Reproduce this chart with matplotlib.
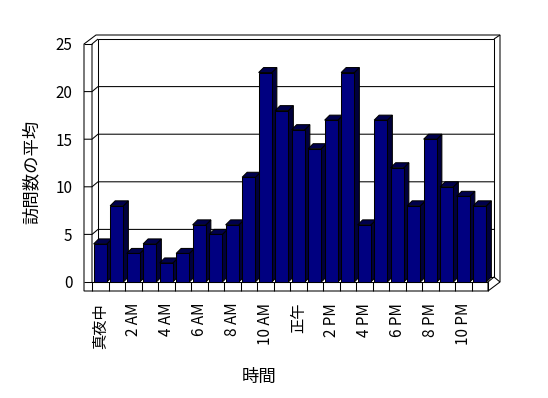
import matplotlib
matplotlib.use('Agg')
import matplotlib.pyplot as plt
from matplotlib.patches import Polygon
from matplotlib.lines import Line2D
from matplotlib.transforms import IdentityTransform

plt.rcParams['font.family'] = ['Noto Sans CJK JP', 'DejaVu Sans']

# ---- data ----
hours = list(range(24))
values = [4, 8, 3, 4, 2, 3, 6, 5, 6, 11, 22, 18, 16, 14, 17, 22, 6, 17, 12, 8, 15, 10, 9, 8]
tick_pos = [0, 2, 4, 6, 8, 10, 12, 14, 16, 18, 20, 22]
tick_labels = ['真夜中', '2 AM', '4 AM', '6 AM', '8 AM', '10 AM', '正午',
               '2 PM', '4 PM', '6 PM', '8 PM', '10 PM']
y_ticks = [0, 5, 10, 15, 20, 25]
x_title = '時間'
y_title = '訪問数の平均'

W, H = 548, 398
fig = plt.figure(figsize=(W / 100, H / 100), dpi=100)
ax = fig.add_axes([92 / W, 116 / H, 396 / W, 238 / H])
ax.set_xlim(-0.5, 23.5)
ax.set_ylim(0, 25)
for s in ax.spines.values():
    s.set_visible(False)
ax.patch.set_visible(False)
ax.set_xticks(tick_pos, tick_labels, rotation=90, fontsize=11)
ax.set_yticks(y_ticks, [str(v) for v in y_ticks], fontsize=11)
ax.tick_params(axis='x', length=0, pad=15)
ax.tick_params(axis='y', length=0, pad=14)

T = ax.transData
ID = IdentityTransform()
LW = 0.75


def P(xd, yd, ox=0.0, oy=0.0):
    x, y = T.transform((xd, yd))
    return (x + ox, y + oy)


def line(pts, z=1.0):
    xs = [p[0] for p in pts]
    ys = [p[1] for p in pts]
    ax.add_artist(Line2D(xs, ys, transform=ID, color='black', lw=LW,
                         zorder=z, clip_on=False, solid_capstyle='butt'))


def poly(pts, fc, z=1.0, ec='black'):
    ax.add_artist(Polygon(pts, closed=True, transform=ID, facecolor=fc,
                          edgecolor=ec, lw=LW, zorder=z, clip_on=False))


X0, X1 = -0.5, 23.5
Y0, YT = 0, 25
WL = 8      # left wall thickness (px)
DX, DY = 6, 5   # depth (px)
BX, BY = 6, 4   # back wall thickness (px)
FT = 9      # floor thickness (px)

# outer silhouette
poly([P(X0, YT, -WL, 0), P(X0, YT, -WL + DX + BX, DY + BY),
      P(X1, YT, DX + BX, DY + BY), P(X1, Y0, DX + BX, 0),
      P(X1, Y0, 0, -FT), P(X0, Y0, -WL, -FT)], 'white', z=0.5)
# back wall inner
poly([P(X0, Y0, DX, DY), P(X0, YT, DX, DY), P(X1, YT, DX, DY), P(X1, Y0, DX, DY)],
     'white', z=0.6)
# left wall inner face edge
line([P(X0, Y0), P(X0, YT), P(X0, YT, DX, DY)], z=0.7)
line([P(X0, YT, -WL, 0), P(X0, YT)], z=0.7)
line([P(X1, YT, DX, DY), P(X1, YT, DX + BX, DY + BY)], z=0.7)
# floor
line([P(X0, Y0, -WL, 0), P(X1, Y0)], z=0.7)
line([P(X1, Y0, 0, -FT), P(X1, Y0), P(X1, Y0, DX, DY), P(X1, Y0, DX + BX, 0)], z=0.7)
for k in range(25):
    line([P(X0 + k, Y0), P(X0 + k, Y0, 0, -FT)], z=0.7)
# gridlines
for v in y_ticks[1:-1]:
    line([P(X0, v, -WL, 0), P(X0, v), P(X0, v, DX, DY), P(X1, v, DX, DY)], z=0.7)

# bars
bw = 0.8
bdx, bdy = 5, 5
bars = ax.bar(hours, values, width=bw, color='#000080', edgecolor='black',
              linewidth=LW)
for i, (h, v) in enumerate(zip(hours, values)):
    z = 3 + i * 0.01
    xr = h + bw / 2
    xl = h - bw / 2
    poly([P(xr, 0), P(xr, v), P(xr, v, bdx, bdy), P(xr, 0, bdx, bdy)], '#00003c', z=z)
    poly([P(xl, v), P(xr, v), P(xr, v, bdx, bdy), P(xl, v, bdx, bdy)], '#00004c', z=z)
    bars[i].set_zorder(z + 0.005)
    bars[i].set_clip_on(False)

fig.text(259 / W, 1 - 377 / H, x_title, ha='center', va='center', fontsize=12.5)
fig.text(32 / W, 1 - 172 / H, y_title, ha='center', va='center', rotation=90,
         fontsize=12.5)

fig.savefig('out.png', dpi=100)
